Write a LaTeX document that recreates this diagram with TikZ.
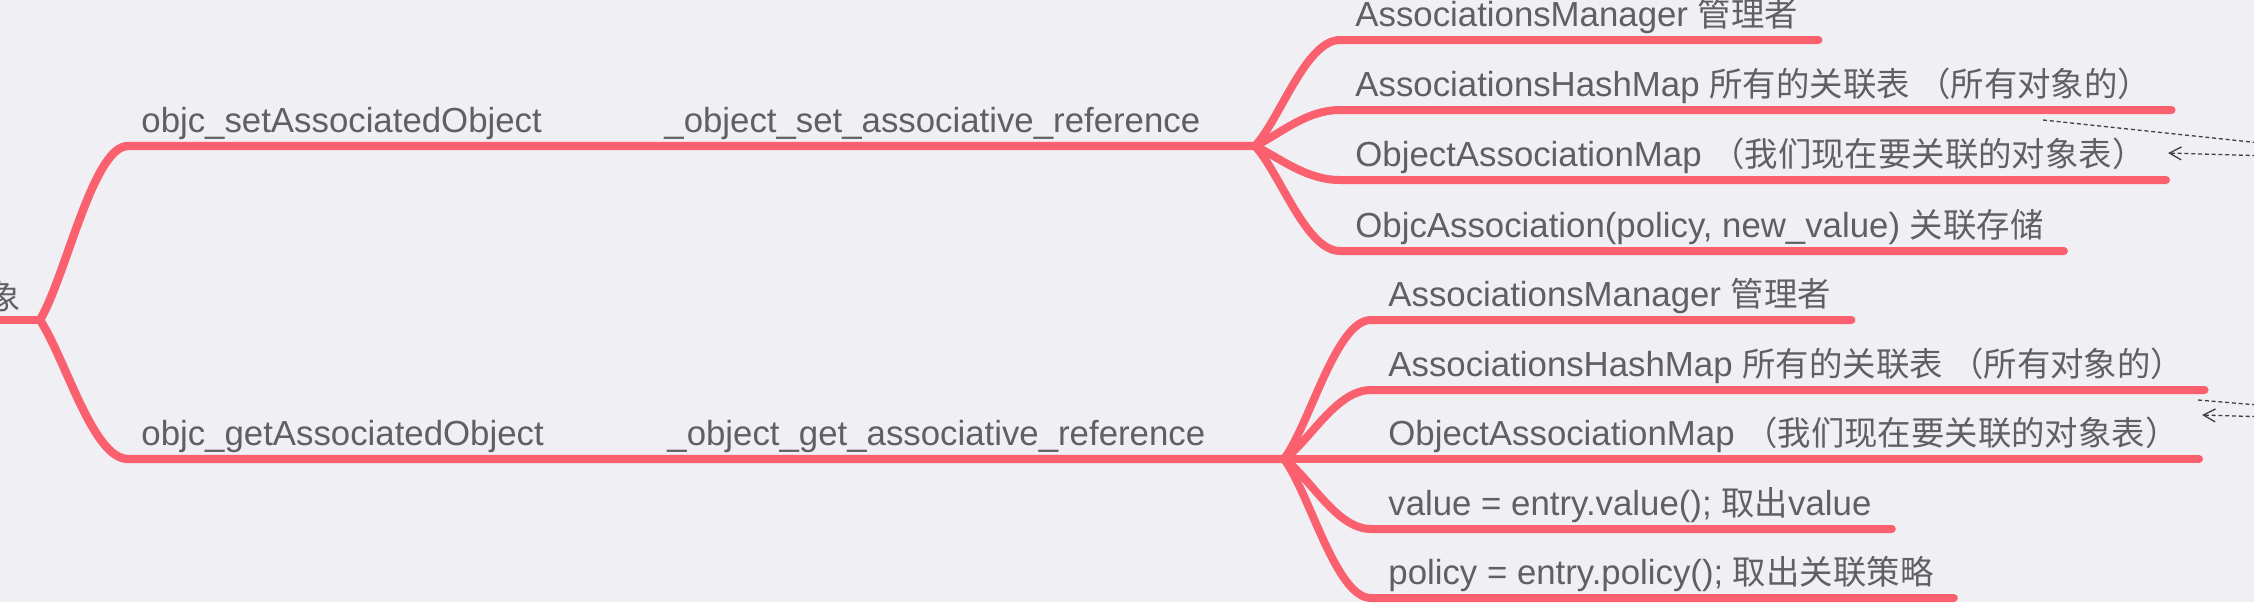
\documentclass[tikz,border=0pt]{standalone}
\usepackage{fontspec}
\setmainfont{Liberation Sans}
\newfontfamily\cjk{Noto Sans CJK SC}[Scale=0.96]
\usetikzlibrary{calc,arrows.meta}
\definecolor{bgpaper}{RGB}{239,239,244}
\definecolor{linkred}{RGB}{250,96,110}
\definecolor{inkgray}{RGB}{95,95,100}

\begin{document}
\begin{tikzpicture}[x=0.5pt,y=-0.5pt,
		txt/.style={inner sep=0pt,anchor=base west,text=inkgray,font=\fontsize{17.4}{20}\selectfont},
		main/.style={draw=linkred,line width=4.2pt,line cap=round},
		sub/.style={draw=linkred,line width=4pt,line cap=round},
		hint/.style={draw=black!75,line width=0.65pt,dash pattern=on 2pt off 1.4pt}]
		\useasboundingbox (0,0) rectangle (2254,602);
		\fill[bgpaper] (0,0) rectangle (2254,602);
		
		\node[txt,anchor=base east] (root) at (21,309) {\cjk 象};
		\coordinate (r0) at (-10,320);
		\coordinate (j0) at (40,320);
		\draw[main] (r0) -- (j0);
		
		% objc_setAssociatedObject
		\coordinate (s0) at (128,146);
		\coordinate (j1) at (1255,146);
		\node[txt] (set) at (141,132) {objc\_setAssociatedObject};
		\node[txt] (setref) at (664,132) {\_object\_set\_associative\_reference};
		\draw[main] (j0) .. controls +(26,-44) and +(-35,0) .. (s0) -- (j1);
		
		\coordinate (sa) at (1340,40);
		\node[txt] (samgr) at (1355,26) {AssociationsManager {\cjk 管理者}};
		\draw[sub] (j1) .. controls +(25,-27) and +(-34,0) .. (sa) -- ($(sa -| samgr.east)+(20,0)$);
		
		\coordinate (sb) at (1340,110);
		\node[txt] (shash) at (1355,96) {AssociationsHashMap {\cjk 所有的关联表 （所有对象的）}};
		\draw[sub] (j1) .. controls +(25,-12) and +(-34,0) .. (sb) -- ($(sb -| shash.east)+(20,0)$);
		
		\coordinate (sc) at (1340,180);
		\node[txt] (smap) at (1355,166) {ObjectAssociationMap {\cjk （我们现在要关联的对象表）}};
		\draw[sub] (j1) .. controls +(25,12) and +(-34,0) .. (sc) -- ($(sc -| smap.east)+(20,0)$);
		
		\coordinate (sd) at (1340,251);
		\node[txt] (sassoc) at (1355,237) {ObjcAssociation(policy, new\_value) {\cjk 关联存储}};
		\draw[sub] (j1) .. controls +(25,27) and +(-34,0) .. (sd) -- ($(sd -| sassoc.east)+(20,0)$);
		
		% objc_getAssociatedObject
		\coordinate (g0) at (128,459);
		\coordinate (j2) at (1284,459);
		\node[txt] (get) at (141,445) {objc\_getAssociatedObject};
		\node[txt] (getref) at (667,445) {\_object\_get\_associative\_reference};
		\draw[main] (j0) .. controls +(26,40) and +(-35,0) .. (g0) -- (j2);
		
		\coordinate (ga) at (1371,320);
		\node[txt] (gmgr) at (1388,306) {AssociationsManager {\cjk 管理者}};
		\draw[sub] (j2) .. controls +(26,-35) and +(-35,0) .. (ga) -- ($(ga -| gmgr.east)+(20,0)$);
		
		\coordinate (gb) at (1371,390);
		\node[txt] (ghash) at (1388,376) {AssociationsHashMap {\cjk 所有的关联表 （所有对象的）}};
		\draw[sub] (j2) .. controls +(26,-18) and +(-35,0) .. (gb) -- ($(gb -| ghash.east)+(20,0)$);
		
		\coordinate (gc) at (1371,459);
		\node[txt] (gmap) at (1388,445) {ObjectAssociationMap {\cjk （我们现在要关联的对象表）}};
		\draw[sub] (j2) -- (gc) -- ($(gc -| gmap.east)+(20,0)$);
		
		\coordinate (gd) at (1371,529);
		\node[txt] (gval) at (1388,515) {value = entry.value(); {\cjk 取出}value};
		\draw[sub] (j2) .. controls +(26,18) and +(-35,0) .. (gd) -- ($(gd -| gval.east)+(20,0)$);
		
		\coordinate (ge) at (1371,598);
		\node[txt] (gpol) at (1388,584) {policy = entry.policy(); {\cjk 取出关联策略}};
		\draw[sub] (j2) .. controls +(26,35) and +(-35,0) .. (ge) -- ($(ge -| gpol.east)+(20,0)$);
		
		% dashed hints, leaving the page to the right
		\coordinate (ha) at (2043,120);
		\coordinate (hb) at (2270,144);
		\draw[hint] (ha) -- (hb);
		\coordinate (hc) at (2168,153);
		\coordinate (hd) at (2270,156);
		\draw[hint,-{Straight Barb[length=6pt,width=6.5pt]}] (hd) -- (hc);
		
		\coordinate (he) at (2198,400);
		\coordinate (hf) at (2270,406);
		\draw[hint] (he) -- (hf);
		\coordinate (hg) at (2202,415);
		\coordinate (hh) at (2270,417);
		\draw[hint,-{Straight Barb[length=6pt,width=6.5pt]}] (hh) -- (hg);
\end{tikzpicture}
\end{document}
